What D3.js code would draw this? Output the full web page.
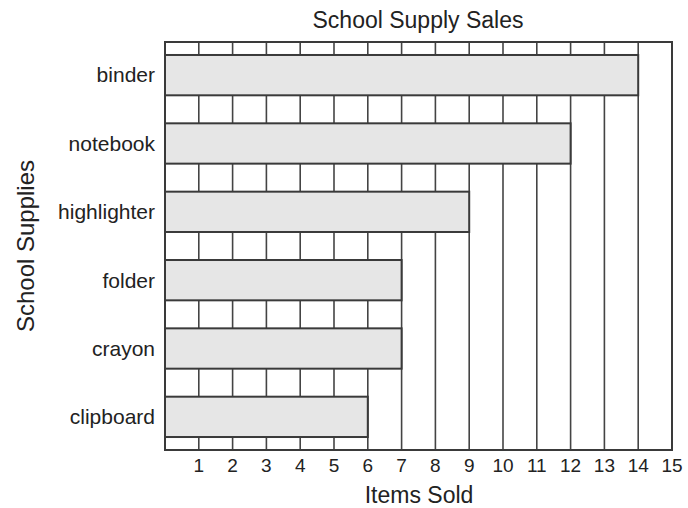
<!DOCTYPE html>
<html>
<head>
<meta charset="utf-8">
<script src="https://cdn.jsdelivr.net/npm/d3@7"></script>
<style>
  body { margin: 0; background: #fff; }
  svg { display: block; font-family: "Liberation Sans", Arial, sans-serif; }
</style>
</head>
<body>
<svg width="688" height="508"></svg>
<script>
const categories = ['binder', 'notebook', 'highlighter', 'folder', 'crayon', 'clipboard']
const itemsSold = [14, 12, 9, 7, 7, 6]
const tickValues = [1, 2, 3, 4, 5, 6, 7, 8, 9, 10, 11, 12, 13, 14, 15]

const svg = d3.select('svg')
const plotLeft = 165, plotRight = 672, plotTop = 42, plotBottom = 450

const x = d3.scaleLinear().domain([0, 15]).range([plotLeft, plotRight])
const y = d3.scaleBand()
  .domain(categories)
  .range([plotTop, plotBottom])
  .paddingInner(0.41)
  .paddingOuter(0.19)

// vertical grid, one line per item
svg.append('g')
  .selectAll('line')
  .data(tickValues.slice(0, -1))
  .join('line')
  .attr('x1', (d) => x(d))
  .attr('x2', (d) => x(d))
  .attr('y1', plotTop)
  .attr('y2', plotBottom)
  .attr('stroke', '#444')
  .attr('stroke-width', 1.6)

// bars sit on top of the grid
svg.append('g')
  .selectAll('rect')
  .data(categories)
  .join('rect')
  .attr('x', x(0))
  .attr('y', (d) => y(d))
  .attr('width', (d, i) => x(itemsSold[i]) - x(0))
  .attr('height', y.bandwidth())
  .attr('fill', '#e6e6e6')
  .attr('stroke', '#3a3a3a')
  .attr('stroke-width', 2)

// outer frame
svg.append('rect')
  .attr('x', plotLeft)
  .attr('y', plotTop)
  .attr('width', plotRight - plotLeft)
  .attr('height', plotBottom - plotTop)
  .attr('fill', 'none')
  .attr('stroke', '#3a3a3a')
  .attr('stroke-width', 2)

// x tick labels
svg.append('g')
  .selectAll('text')
  .data(tickValues)
  .join('text')
  .attr('x', (d) => x(d))
  .attr('y', 472)
  .attr('text-anchor', 'middle')
  .attr('font-size', 19)
  .attr('fill', '#222')
  .text((d) => d)

// category labels
svg.append('g')
  .selectAll('text')
  .data(categories)
  .join('text')
  .attr('x', 155)
  .attr('y', (d) => y(d) + y.bandwidth() / 2)
  .attr('dy', '0.35em')
  .attr('text-anchor', 'end')
  .attr('font-size', 21)
  .attr('fill', '#222')
  .text((d) => d)

svg.append('text')
  .attr('x', 418)
  .attr('y', 28)
  .attr('text-anchor', 'middle')
  .attr('font-size', 23)
  .attr('fill', '#222')
  .text('School Supply Sales')

svg.append('text')
  .attr('x', 419)
  .attr('y', 503)
  .attr('text-anchor', 'middle')
  .attr('font-size', 23)
  .attr('fill', '#222')
  .text('Items Sold')

svg.append('text')
  .attr('transform', 'translate(34,246) rotate(-90)')
  .attr('text-anchor', 'middle')
  .attr('font-size', 24)
  .attr('fill', '#222')
  .text('School Supplies')
</script>
</body>
</html>
